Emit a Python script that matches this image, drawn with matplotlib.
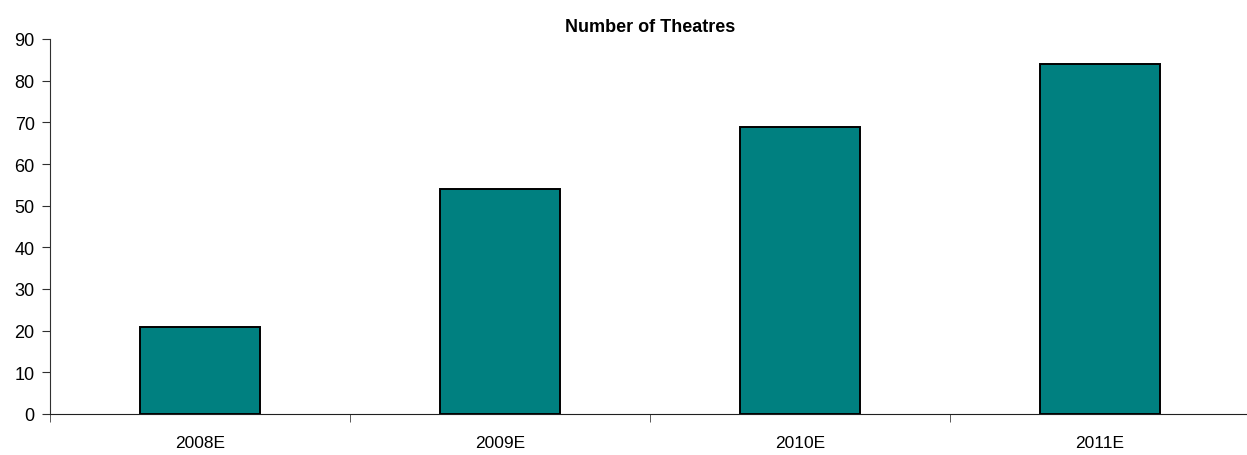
import matplotlib.pyplot as plt

years = ["2008E", "2009E", "2010E", "2011E"]
theatres = [21, 54, 69, 84]

plt.rcParams['font.family'] = ['Liberation Sans', 'DejaVu Sans']

fig = plt.figure(figsize=(12.47, 4.56), dpi=100)
ax = fig.add_axes([50 / 1247, 1 - 415 / 456, 1200 / 1247, 375 / 456])

x = range(len(years))
ax.bar(x, theatres, width=0.4, color='#008080', edgecolor='black', linewidth=1.4)

ax.set_xlim(-0.5, 3.5)
ax.set_ylim(0, 90)
ax.set_yticks(range(0, 91, 10))
ax.set_xticks(list(x))
ax.set_xticklabels(years)
ax.set_xticks([-0.5, 0.5, 1.5, 2.5], minor=True)
ax.tick_params(axis='x', which='major', length=0, pad=15, labelsize=12.5)
ax.tick_params(axis='x', which='minor', length=6, direction='out', color='#404040')
ax.tick_params(axis='y', length=6, direction='out', labelsize=13, pad=5, color='#303030')

for s in ['top', 'right']:
    ax.spines[s].set_visible(False)
ax.spines['left'].set_color('#303030')
ax.spines['bottom'].set_color('#202020')

ax.set_title("Number of Theatres", fontsize=13, fontweight='bold', pad=6)

fig.savefig("out.png", dpi=100)
